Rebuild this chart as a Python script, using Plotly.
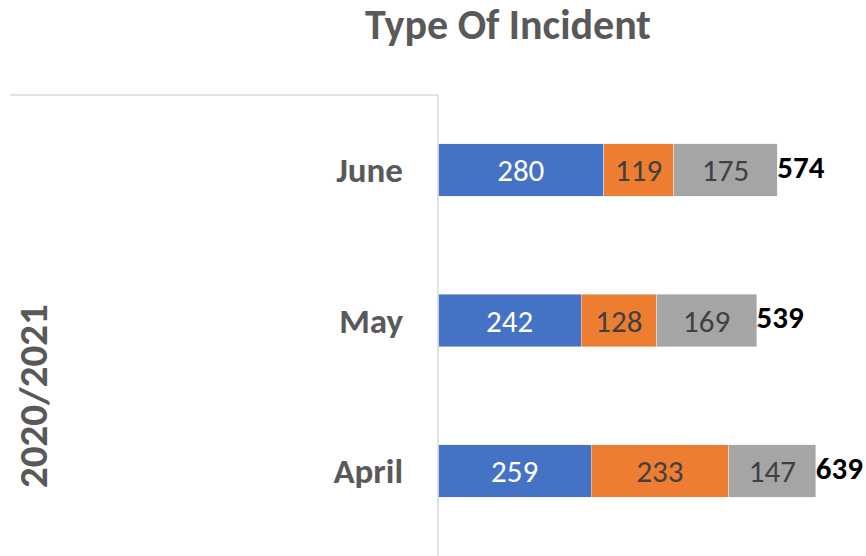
import plotly.graph_objects as go

# data
months = ["April", "May", "June"]
year_label = "2020/2021"
series_blue = [259, 242, 280]
series_orange = [233, 128, 119]
series_gray = [147, 169, 175]
totals = [b + o + g for b, o, g in zip(series_blue, series_orange, series_gray)]

FONT = "Carlito, Open Sans, sans-serif"

fig = go.Figure()
fig.add_trace(go.Bar(y=months, x=series_blue, orientation='h', marker=dict(color='#4472C4'),
                     text=series_blue, textposition='inside', insidetextanchor='middle',
                     textfont=dict(color='white', size=31, family=FONT)))
fig.add_trace(go.Bar(y=months, x=series_orange, orientation='h', marker=dict(color='#ED7D31'),
                     text=series_orange, textposition='inside', insidetextanchor='middle',
                     textfont=dict(color='#404040', size=31, family=FONT)))
fig.add_trace(go.Bar(y=months, x=series_gray, orientation='h', marker=dict(color='#A5A5A5'),
                     text=series_gray, textposition='inside', insidetextanchor='middle',
                     textfont=dict(color='#404040', size=31, family=FONT)))
#totals at the end of each bar
fig.add_trace(go.Scatter(y=months, x=totals, mode='text', text=[str(t) for t in totals],
                         texttemplate='<b>%{text}</b>', textposition='middle right', cliponaxis=False,
                         textfont=dict(color='black', size=31, family=FONT)))

fig.update_layout(
    barmode='stack', bargap=0.65, showlegend=False,
    width=866, height=556, plot_bgcolor='white', paper_bgcolor='white',
    margin=dict(l=438, r=16, t=95, b=10),
    title=dict(text="<b>Type Of Incident</b>", x=508/866, xanchor='center', y=1-10/556, yanchor='top',
               font=dict(size=42, color='#595959', family=FONT)),
    xaxis=dict(range=[0, 697], visible=False),
    yaxis=dict(showline=False, ticks='', showgrid=False, ticklabelstandoff=34,
               tickfont=dict(size=35, color='#595959', family=FONT)),
    font=dict(family=FONT),
)
fig.update_yaxes(tickvals=months, ticktext=["<b>%s</b>" % m for m in months])

# axis lines like the excel multi-level category axis
fig.add_shape(type='line', xref='paper', yref='paper', x0=0, x1=0, y0=1, y1=-0.03,
              line=dict(color='#D9D9D9', width=1.5))
fig.add_shape(type='line', xref='paper', yref='paper', x0=-428/412, x1=0, y0=1, y1=1,
              line=dict(color='#D9D9D9', width=1.5))
fig.add_annotation(text="<b>%s</b>" % year_label, xref='paper', yref='paper', x=-405/412, y=(546-396)/451,
                   xanchor='center', yanchor='middle', textangle=-90, showarrow=False,
                   font=dict(size=41, color='#595959', family=FONT))

fig.write_html("out.html", config={'displayModeBar': False},
               post_script="document.body.style.margin='0';")
